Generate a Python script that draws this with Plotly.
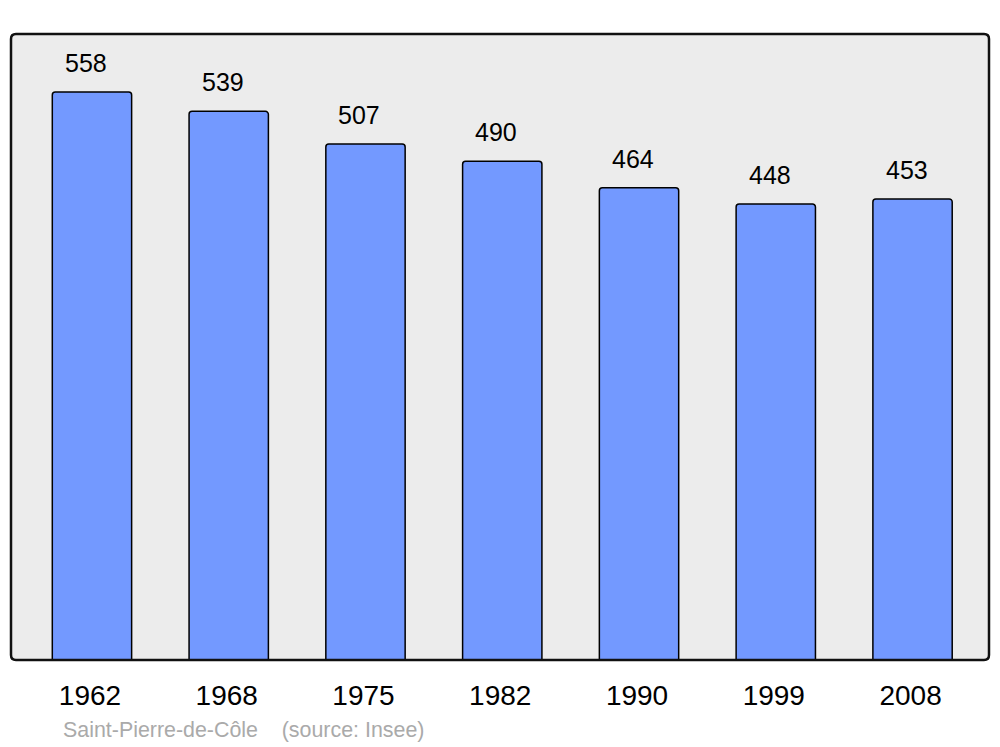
import plotly.graph_objects as go

years = ["1962", "1968", "1975", "1982", "1990", "1999", "2008"]
population = [558, 539, 507, 490, 464, 448, 453]
source_text = "Saint-Pierre-de-Côle    (source: Insee)"

W, H = 1000, 747
ml, mr, mt, mb = 11, 11, 34, 87
pw, ph = W - ml - mr, H - mt - mb

fig = go.Figure()
fig.add_trace(go.Bar(
    x=list(range(len(years))), y=population,
    width=0.58,
    marker=dict(color="#7399FF", line=dict(color="#000000", width=1.5), cornerradius=3),
    hoverinfo="skip",
))

for i, v in enumerate(population):
    fig.add_annotation(x=i, y=v, text=str(v), showarrow=False, yanchor="bottom",
                       yshift=13, xshift=-6, font=dict(family="Liberation Sans", size=25, color="#000"))

# rounded frame
rx, ry = 5 / pw, 5 / ph
path = (f"M {rx},0 L {1-rx},0 Q 1,0 1,{ry} L 1,{1-ry} Q 1,1 {1-rx},1 "
        f"L {rx},1 Q 0,1 0,{1-ry} L 0,{ry} Q 0,0 {rx},0 Z")
fig.add_shape(type="path", path=path, xref="paper", yref="paper",
              line=dict(color="#111111", width=2.5), layer="above")

fig.add_annotation(x=(61 - ml) / pw, y=-(730 - (H - mb)) / ph, xref="paper", yref="paper",
                   text=source_text, showarrow=False, xanchor="left", yanchor="middle",
                   font=dict(family="Liberation Sans", size=21.4, color="#AAAAAA"))

fig.update_layout(
    width=W, height=H,
    margin=dict(l=ml, r=mr, t=mt, b=mb),
    paper_bgcolor="#FFFFFF", plot_bgcolor="#ECECEC",
    showlegend=False,
    xaxis=dict(range=[-0.592, 6.559], tickmode="array", tickvals=list(range(len(years))),
               ticktext=years, showgrid=False, zeroline=False, ticks="outside",
               ticklen=10, tickcolor="rgba(0,0,0,0)", ticklabelshift=-2,
               tickfont=dict(family="Liberation Sans", size=28, color="#000")),
    yaxis=dict(range=[0, 615], showgrid=False, zeroline=False, showticklabels=False),
)
fig.write_html("out.html", config={"displayModeBar": False},
               post_script="document.body.style.margin='0';document.body.style.overflow='hidden';")
